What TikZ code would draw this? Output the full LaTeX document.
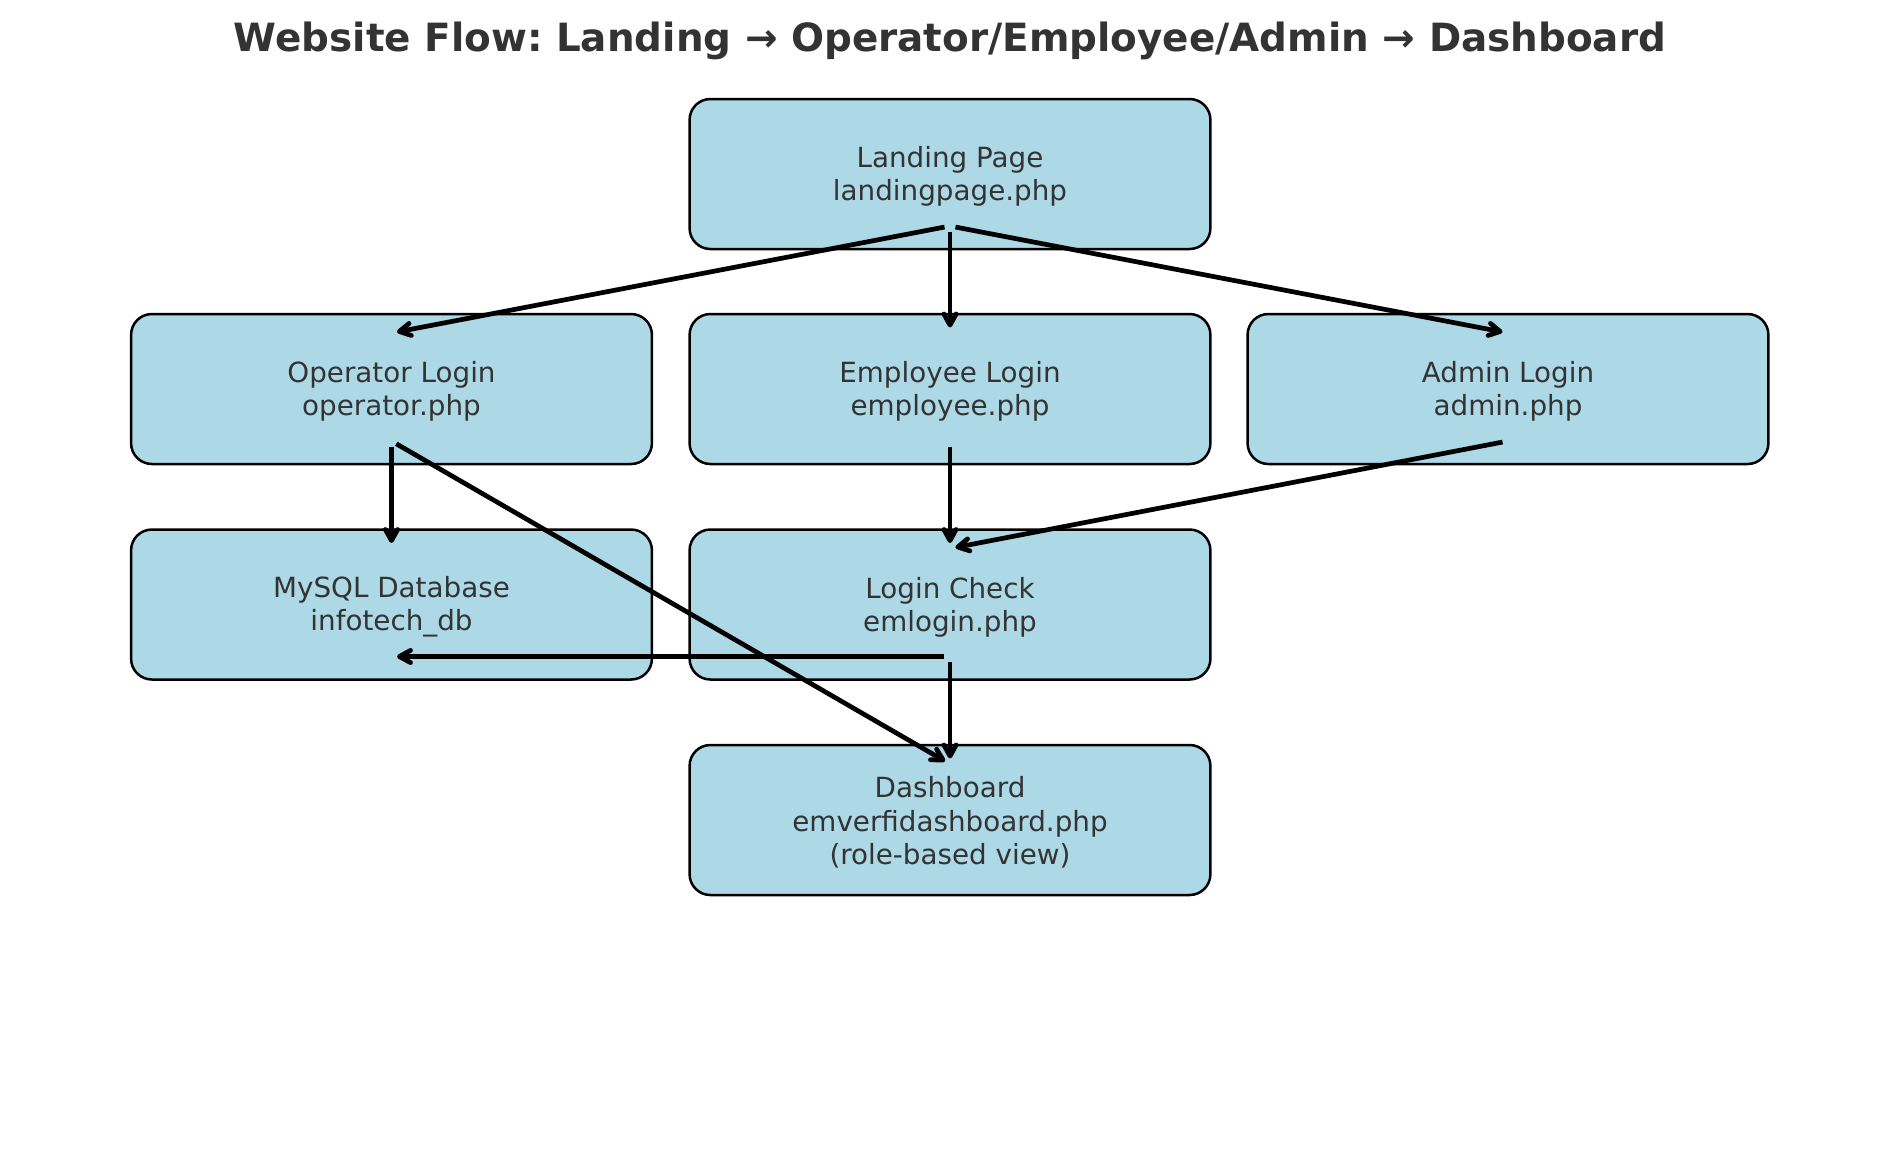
\documentclass[tikz,border=0pt]{standalone}
\usepackage{fontspec}
\setmainfont{DejaVu Sans}
\usetikzlibrary{arrows.meta,calc}
\definecolor{boxblue}{HTML}{ADD8E6}
\definecolor{txtgray}{HTML}{333333}
\frenchspacing
\begin{document}
\begin{tikzpicture}[x=0.36pt,y=-0.36pt,
  box/.style={draw=black,line width=0.9pt,fill=boxblue,rounded corners=7.5pt,
    minimum width=187.5pt,minimum height=54pt,inner sep=0pt},
  boxtext/.style={align=center,inner sep=0pt,text=txtgray,
    font=\fontsize{10}{12}\selectfont,yshift=-0.9pt},
  arr/.style={line width=1.7pt,-{Straight Barb[length=4pt,width=4.4pt,round]},
    shorten <=2pt,shorten >=2pt},
  titlestyle/.style={text=txtgray,font=\bfseries\fontsize{14}{17}\selectfont,inner sep=0pt}]
\useasboundingbox (0,0) rectangle (1900,1164);
\node[titlestyle] (title) at (950,40.5) {Website Flow: Landing → Operator/Employee/Admin → Dashboard};
\node[box] (land) at (950,174) {};
\node[box] (op) at (391.5,389) {};
\node[box] (emp) at (950,389) {};
\node[box] (adm) at (1508,389) {};
\node[box] (db) at (391.5,604.5) {};
\node[box] (chk) at (950,604.5) {};
\node[box] (dash) at (950,820) {};
\node[boxtext] (land-txt) at (land) {Landing Page\\landingpage.php};
\node[boxtext] (op-txt) at (op) {Operator Login\\operator.php};
\node[boxtext] (emp-txt) at (emp) {Employee Login\\employee.php};
\node[boxtext] (adm-txt) at (adm) {Admin Login\\admin.php};
\node[boxtext] (db-txt) at (db) {MySQL Database\\infotech\_db};
\node[boxtext] (chk-txt) at (chk) {Login Check\\emlogin.php};
\node[boxtext] (dash-txt) at (dash) {Dashboard\\emverfidashboard.php\\(role-based view)};
\foreach \n in {land,op,emp,adm,db,chk,dash}{
  \coordinate (\n-s) at ($(\n.center)+(0,52)$);
  \coordinate (\n-t) at ($(\n.center)+(0,-56)$);
}
\draw[arr] (land-s) -- (op-t);
\draw[arr] (land-s) -- (emp-t);
\draw[arr] (land-s) -- (adm-t);
\draw[arr] (op-s) -- (db-t);
\draw[arr] (op-s) -- (dash-t);
\draw[arr] (emp-s) -- (chk-t);
\draw[arr] (adm-s) -- (chk-t);
\draw[arr] (chk-s) -- (db-s);
\draw[arr] (chk-s) -- (dash-t);
\end{tikzpicture}
\end{document}
